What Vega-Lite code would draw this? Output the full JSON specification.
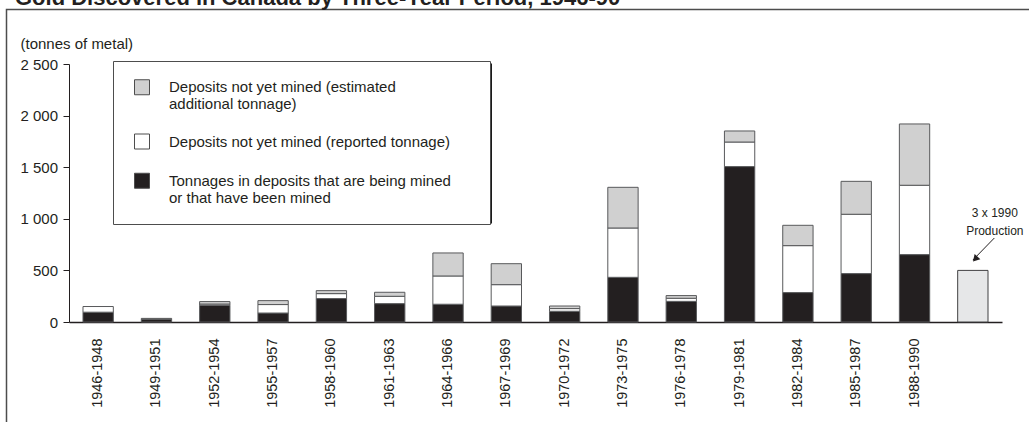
{
  "$schema": "https://vega.github.io/schema/vega-lite/v6.json",
  "width": 933,
  "height": 258,
  "autosize": {"type": "none"},
  "padding": {"left": 69, "top": 64, "right": 27, "bottom": 100},
  "background": "white",
  "title": {
    "text": "Gold Discovered in Canada by Three-Year Period, 1946-90",
    "anchor": "start",
    "frame": "group",
    "font": "Liberation Sans",
    "fontSize": 22,
    "fontWeight": "bold",
    "color": "#231f20",
    "dx": -54,
    "offset": 0
  },
  "config": {
    "view": {"stroke": null},
    "font": "Liberation Sans"
  },
  "datasets": {
    "discoveries": [
      {"period": "1946-1948", "category": "tonnages", "tonnes": 95},
      {"period": "1946-1948", "category": "reported", "tonnes": 55},
      {"period": "1949-1951", "category": "tonnages", "tonnes": 28},
      {"period": "1949-1951", "category": "reported", "tonnes": 7},
      {"period": "1952-1954", "category": "tonnages", "tonnes": 162},
      {"period": "1952-1954", "category": "reported", "tonnes": 12},
      {"period": "1952-1954", "category": "estimated", "tonnes": 24},
      {"period": "1955-1957", "category": "tonnages", "tonnes": 87},
      {"period": "1955-1957", "category": "reported", "tonnes": 82},
      {"period": "1955-1957", "category": "estimated", "tonnes": 38},
      {"period": "1958-1960", "category": "tonnages", "tonnes": 227},
      {"period": "1958-1960", "category": "reported", "tonnes": 48},
      {"period": "1958-1960", "category": "estimated", "tonnes": 29},
      {"period": "1961-1963", "category": "tonnages", "tonnes": 178},
      {"period": "1961-1963", "category": "reported", "tonnes": 71},
      {"period": "1961-1963", "category": "estimated", "tonnes": 39},
      {"period": "1964-1966", "category": "tonnages", "tonnes": 172},
      {"period": "1964-1966", "category": "reported", "tonnes": 274},
      {"period": "1964-1966", "category": "estimated", "tonnes": 223},
      {"period": "1967-1969", "category": "tonnages", "tonnes": 155},
      {"period": "1967-1969", "category": "reported", "tonnes": 207},
      {"period": "1967-1969", "category": "estimated", "tonnes": 203},
      {"period": "1970-1972", "category": "tonnages", "tonnes": 104},
      {"period": "1970-1972", "category": "reported", "tonnes": 26},
      {"period": "1970-1972", "category": "estimated", "tonnes": 25},
      {"period": "1973-1975", "category": "tonnages", "tonnes": 433},
      {"period": "1973-1975", "category": "reported", "tonnes": 478},
      {"period": "1973-1975", "category": "estimated", "tonnes": 394},
      {"period": "1976-1978", "category": "tonnages", "tonnes": 200},
      {"period": "1976-1978", "category": "reported", "tonnes": 30},
      {"period": "1976-1978", "category": "estimated", "tonnes": 26},
      {"period": "1979-1981", "category": "tonnages", "tonnes": 1506},
      {"period": "1979-1981", "category": "reported", "tonnes": 238},
      {"period": "1979-1981", "category": "estimated", "tonnes": 107},
      {"period": "1982-1984", "category": "tonnages", "tonnes": 285},
      {"period": "1982-1984", "category": "reported", "tonnes": 455},
      {"period": "1982-1984", "category": "estimated", "tonnes": 197},
      {"period": "1985-1987", "category": "tonnages", "tonnes": 469},
      {"period": "1985-1987", "category": "reported", "tonnes": 575},
      {"period": "1985-1987", "category": "estimated", "tonnes": 319},
      {"period": "1988-1990", "category": "tonnages", "tonnes": 653},
      {"period": "1988-1990", "category": "reported", "tonnes": 672},
      {"period": "1988-1990", "category": "estimated", "tonnes": 594}
    ],
    "production": [
      {"period": "3x1990", "tonnes": 500}
    ],
    "frame": [
      {"f": 0, "s": 0}, {"f": 1, "s": 2}
    ]
  },
  "layer": [
    {
      "data": {"name": "discoveries"},
      "mark": {"type": "bar", "stroke": "#58595b", "strokeWidth": 1},
      "encoding": {
        "x": {
          "field": "period", "type": "nominal",
          "scale": {
            "domain": ["1946-1948","1949-1951","1952-1954","1955-1957","1958-1960","1961-1963","1964-1966","1967-1969","1970-1972","1973-1975","1976-1978","1979-1981","1982-1984","1985-1987","1988-1990","3x1990"],
            "paddingInner": 0.48, "paddingOuter": 0.24
          },
          "axis": {
            "title": null,
            "labelAngle": -90,
            "ticks": false,
            "labelPadding": 16,
            "labelFont": "Liberation Sans",
            "labelFontSize": 14.5,
            "labelColor": "#231f20",
            "domainColor": "#231f20",
            "domainWidth": 1.5,
            "labelExpr": "datum.value == '3x1990' ? '' : datum.value"
          }
        },
        "y": {
          "field": "tonnes", "type": "quantitative", "stack": "zero",
          "scale": {"domain": [0, 2500], "nice": false},
          "axis": {
            "title": "(tonnes of metal)",
            "titleAngle": 0,
            "titleAlign": "left",
            "titleBaseline": "middle",
            "titleX": -49,
            "titleY": -21,
            "titleFont": "Liberation Sans",
            "titleFontSize": 15,
            "titleFontWeight": "normal",
            "titleColor": "#231f20",
            "values": [0, 500, 1000, 1500, 2000, 2500],
            "labelExpr": "replace(format(datum.value, ','), ',', ' ')",
            "labelFont": "Liberation Sans",
            "labelFontSize": 15,
            "labelColor": "#231f20",
            "labelPadding": 5.5,
            "tickSize": 6,
            "tickColor": "#231f20",
            "domainColor": "#231f20",
            "grid": false
          }
        },
        "fill": {
          "field": "category", "type": "nominal",
          "scale": {"domain": ["estimated", "reported", "tonnages"], "range": ["#d0d0d0", "#ffffff", "#231f20"]},
          "legend": {
            "title": null,
            "orient": "none",
            "legendX": 44,
            "legendY": -3,
            "fillColor": "#ffffff",
            "strokeColor": "#4d4d4d",
            "padding": 18.25,
            "zindex": 2,
            "symbolType": "square",
            "symbolSize": 225,
            "symbolStrokeColor": "#4d4d4d",
            "symbolStrokeWidth": 1,
            "symbolOffset": 2.75,
            "labelOffset": 19,
            "labelFont": "Liberation Sans",
            "labelFontSize": 15,
            "labelColor": "#231f20",
            "labelLimit": 600,
            "rowPadding": 19.25,
            "labelExpr": "datum.value == 'estimated' ? ['Deposits not yet mined (estimated', 'additional tonnage)'] : datum.value == 'reported' ? 'Deposits not yet mined (reported tonnage)\u00a0\u00a0\u00a0\u00a0\u00a0\u200b' : ['Tonnages in deposits that are being mined', 'or that have been mined']"
          }
        },
        "order": {"field": "category", "sort": "descending"}
      }
    },
    {
      "data": {"name": "production"},
      "mark": {"type": "bar", "fill": "#e6e7e8", "stroke": "#414042", "strokeWidth": 1},
      "encoding": {
        "x": {"field": "period", "type": "nominal"},
        "y": {"field": "tonnes", "type": "quantitative"}
      }
    },
    {
      "data": {"values": [{}]},
      "mark": {"type": "text", "text": ["3 x 1990", "Production"], "font": "Liberation Sans", "fontSize": 12, "lineHeight": 17.7, "align": "center", "baseline": "middle", "dx": 22, "color": "#231f20"},
      "encoding": {
        "x": {"datum": "3x1990", "type": "nominal"},
        "y": {"datum": 1056, "type": "quantitative"}
      }
    },
    {
      "data": {"values": [{}]},
      "mark": {"type": "rule", "xOffset": 21.5, "x2Offset": 0, "color": "#231f20", "strokeWidth": 1},
      "encoding": {
        "x": {"datum": "3x1990", "type": "nominal"},
        "x2": {"datum": "3x1990"},
        "y": {"datum": 814, "type": "quantitative"},
        "y2": {"datum": 600}
      }
    },
    {
      "data": {"values": [{}]},
      "mark": {"type": "point", "shape": "triangle-up", "angle": 222, "size": 60, "filled": true, "opacity": 1, "color": "#231f20", "xOffset": 2.4},
      "encoding": {
        "x": {"datum": "3x1990", "type": "nominal"},
        "y": {"datum": 610, "type": "quantitative"}
      }
    },
    {
      "data": {"name": "frame"},
      "mark": {"type": "point", "opacity": 0},
      "encoding": {
        "color": {
          "field": "f", "type": "quantitative",
          "scale": {"domain": [0, 1], "range": ["rgba(255,255,255,0)", "rgba(255,255,255,0)"]},
          "legend": {
            "title": null,
            "orient": "none",
            "direction": "horizontal",
            "legendX": -62.5,
            "legendY": -54.5,
            "padding": 0,
            "gradientLength": 1200,
            "gradientThickness": 600,
            "gradientStrokeColor": "#4d4d4d",
            "gradientStrokeWidth": 1.5,
            "values": [0],
            "labelExpr": "''",
            "labelOpacity": 0,
            "labelFontSize": 1,
            "zindex": 0
          }
        }
      }
    },
    {
      "data": {"name": "frame"},
      "mark": {"type": "point", "opacity": 0},
      "encoding": {
        "stroke": {
          "field": "s", "type": "quantitative",
          "scale": {"domain": [0, 2], "range": ["#1a1a1a", "#1a1a1a"]},
          "legend": {
            "title": null,
            "orient": "none",
            "direction": "horizontal",
            "legendX": 47,
            "legendY": -0.5,
            "padding": 0,
            "gradientLength": 376,
            "gradientThickness": 160,
            "gradientStrokeWidth": 0,
            "values": [0],
            "labelExpr": "''",
            "labelOpacity": 0,
            "labelFontSize": 1,
            "zindex": 1
          }
        }
      }
    }
  ]
}
